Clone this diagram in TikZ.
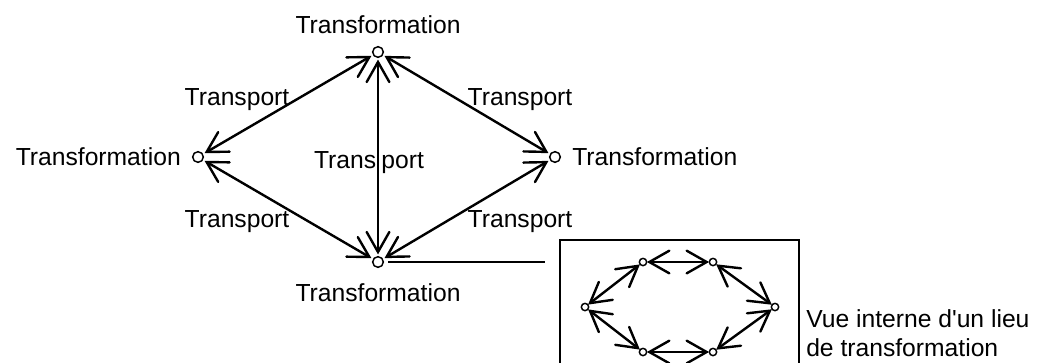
\documentclass[tikz,border=0pt]{standalone}
\usepackage{fontspec}
\setmainfont{Liberation Sans}[Ligatures=TeXOff]
\usepackage{tikz}
\usetikzlibrary{arrows.meta, positioning}

% open V arrow tip
\pgfdeclarearrow{
  name = Vee,
  parameters = {\the\pgfarrowlength,\the\pgfarrowwidth},
  setup code = {
    \pgfarrowssettipend{0pt}
    \pgfarrowssetlineend{-\pgflinewidth}
    \pgfarrowssetbackend{-\pgfarrowlength}
    \pgfarrowshullpoint{0pt}{0pt}
    \pgfarrowsupperhullpoint{-\pgfarrowlength}{.5\pgfarrowwidth}
    \pgfarrowlinewidth=\pgflinewidth
    \pgfarrowssavethe\pgfarrowlength
    \pgfarrowssavethe\pgfarrowwidth
  },
  drawing code = {
    \pgfsetdash{}{0pt}
    \pgfsetroundcap
    \pgfsetmiterjoin
    \pgfpathmoveto{\pgfqpoint{-\pgfarrowlength}{.5\pgfarrowwidth}}
    \pgfpathlineto{\pgfpointorigin}
    \pgfpathlineto{\pgfqpoint{-\pgfarrowlength}{-.5\pgfarrowwidth}}
    \pgfusepathqstroke
  },
  defaults = {length=14pt, width=15pt}
}

\begin{document}
\begin{tikzpicture}[
  x=0.75pt, y=-0.75pt,
  place/.style={circle, draw, line width=1.1pt, inner sep=0pt, minimum size=8pt, outer sep=3.5pt},
  subplace/.style={circle, draw, line width=1.1pt, inner sep=0pt, minimum size=5.5pt, outer sep=2pt},
  lbl/.style={font=\fontsize{18.5}{22}\selectfont, inner sep=0pt},
  flow/.style={{Vee[length=15pt,width=17pt]}-{Vee[length=15pt,width=17pt]}, line width=1.8pt},
]
\useasboundingbox (0,0) rectangle (1061,362);

% Lieux de transformation
\node[place] (top) at (378,52) {};
\node[place] (left) at (198,157) {};
\node[place] (right) at (555,157) {};
\node[place] (bot) at (378,262) {};

\node[lbl] (toplbl) at (378,25) {Transformation};
\node[lbl, anchor=east] (leftlbl) at (181,157) {Transformation};
\node[lbl, anchor=west] (rightlbl) at (572,157) {Transformation};
\node[lbl] (botlbl) at (378,293) {Transformation};

% Transports
\draw[flow] (left) -- (top);
\draw[flow] (top) -- (right);
\draw[flow] (left) -- (bot);
\draw[flow] (right) -- (bot);
\draw[flow] (top) -- (bot);

\node[lbl] (t1) at (237,100) {Transport};
\node[lbl] (t2) at (520,100) {Transport};
\node[lbl] (t3) at (237,222) {Transport};
\node[lbl] (t4) at (520,222) {Transport};
\node[lbl] (t5) at (369,163) {Trans\hspace{4pt}port};

% Vue interne
\coordinate (link) at (545,262);
\draw[line width=1.8pt] (bot) -- (link);
\draw[line width=1.4pt] (560,365) -- (560,240) -- (799,240) -- (799,365);

\node[subplace] (a) at (643,262) {};
\node[subplace] (b) at (713,262) {};
\node[subplace] (c) at (775,307) {};
\node[subplace] (d) at (713,352) {};
\node[subplace] (e) at (643,352) {};
\node[subplace] (f) at (585,307) {};

\draw[flow] (a) -- (b);
\draw[flow] (b) -- (c);
\draw[flow] (c) -- (d);
\draw[flow] (d) -- (e);
\draw[flow] (e) -- (f);
\draw[flow] (f) -- (a);

\node[lbl, anchor=west, align=left] (note) at (806,333) {Vue interne d'un lieu\\de transformation};
\end{tikzpicture}
\end{document}
